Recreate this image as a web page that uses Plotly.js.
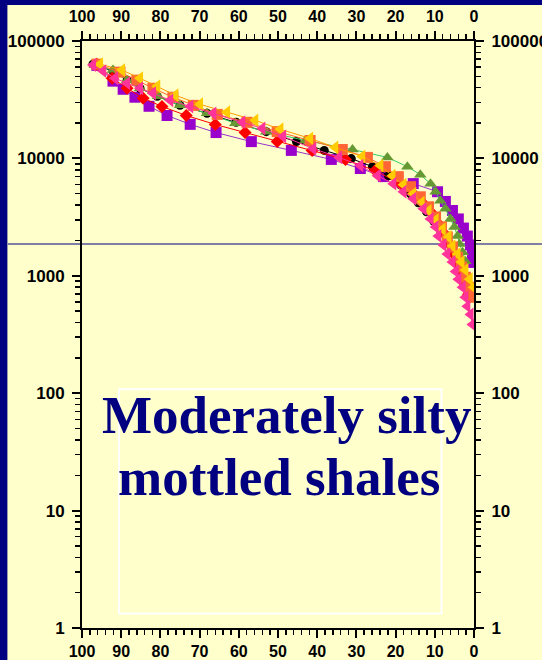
<!DOCTYPE html>
<html>
<head>
<meta charset="utf-8">
<script src="https://cdn.plot.ly/plotly-3.0.1.min.js"></script>
<style>
html,body{margin:0;padding:0;background:#ffffcc;}
#chart{width:542px;height:660px;}
</style>
</head>
<body>
<div id="chart"></div>
<script>
// ---- data (x = percent, y = value on log axis) ----
const purpleX = [96.2, 92.1, 89.5, 86.5, 82.9, 78.3, 72.4, 65.8, 56.8, 46.6, 36.4, 29.0, 23.1, 15.5, 9.3, 7.3, 5.5, 4.0, 2.7, 1.7, 0.9, 0.4, 0.1];
const purpleY = [62000, 45500, 38800, 33200, 27800, 23200, 19500, 16600, 13900, 11700, 9800, 8200, 7000, 6100, 5200, 4300, 3600, 3050, 2550, 2180, 1830, 1530, 1300];

const blackX = [97.2, 92.1, 88.5, 85.2, 80.8, 75.0, 68.1, 60.7, 53.0, 45.3, 38.2, 31.3, 25.9, 21.8, 18.8, 16.2, 14.2, 12.1, 10.3, 8.6, 7.0, 5.7, 4.5, 3.2, 2.2, 1.1, 0.1];
const blackY = [63500, 55400, 46400, 39600, 33800, 28300, 24200, 20300, 16900, 13900, 11700, 9960, 8510, 7120, 5970, 5000, 4190, 3510, 2930, 2450, 2060, 1720, 1440, 1190, 973, 798, 668];

const greenX = [96.7, 92.1, 88.5, 85.2, 80.6, 75.0, 68.1, 60.9, 53.0, 43.0, 31.0, 22.1, 17.0, 13.7, 11.1, 9.8, 8.6, 7.3, 6.0, 5.0, 4.2, 3.7, 2.9, 2.2];
const greenY = [62000, 56500, 46400, 39600, 33800, 28300, 24200, 19900, 16900, 14200, 11900, 10200, 8510, 7270, 6080, 5200, 4350, 3720, 3050, 2610, 2180, 1870, 1590, 1330];

const redX = [96.2, 92.3, 88.5, 84.4, 79.6, 73.4, 66.0, 58.4, 50.2, 41.3, 32.8, 25.2, 18.8, 15.5, 12.9, 10.6, 9.1, 7.5, 6.3, 5.2, 4.2, 3.2, 2.2, 1.4];
const redY = [63500, 48200, 39600, 32500, 27700, 23200, 19450, 16600, 13900, 11700, 9770, 7870, 6090, 5000, 4100, 3370, 2770, 2270, 1870, 1530, 1260, 1030, 848, 696];

const orangeX = [96.2, 90.3, 86.0, 81.9, 76.8, 71.6, 65.5, 57.9, 50.2, 41.8, 33.6, 27.2, 22.6, 19.3, 16.2, 13.7, 11.6, 9.8, 8.3, 6.8, 5.5, 4.2, 3.2, 2.2, 1.1, 0.1];
const orangeY = [63500, 54300, 46400, 39600, 33200, 28300, 23700, 20300, 16900, 14200, 11900, 10200, 8510, 6990, 5740, 4710, 3870, 3170, 2610, 2140, 1760, 1440, 1190, 973, 798, 656];

const yellowX = [95.4, 89.8, 85.2, 80.8, 76.2, 69.9, 63.0, 55.8, 49.4, 41.8, 35.4, 28.5, 23.9, 20.8, 18.0, 15.5, 13.4, 11.6, 9.8, 8.0, 6.5, 5.5, 4.2, 3.2, 2.2, 1.1, 0.1];
const yellowY = [63500, 56500, 48200, 41200, 34500, 28900, 24700, 21100, 17700, 14800, 12400, 10400, 8680, 7120, 5970, 5000, 4190, 3570, 2990, 2500, 2140, 1790, 1530, 1310, 1120, 935, 798];

const pinkX = [97.2, 94.6, 91.6, 88.5, 85.2, 81.9, 77.5, 72.4, 66.5, 59.1, 54.0, 48.7, 41.0, 34.4, 29.0, 24.6, 20.6, 18.0, 15.5, 12.9, 11.1, 9.8, 9.1, 7.8, 6.8, 5.5, 4.7, 4.0, 2.9, 2.2, 1.7, 0.9, 0.4];
const pinkY = [62400, 55400, 48200, 43700, 39600, 35900, 31300, 27700, 24200, 20300, 18000, 15400, 12100, 10200, 8680, 7120, 6090, 5200, 4530, 3720, 3050, 2610, 2180, 1830, 1530, 1310, 1090, 935, 798, 656, 549, 469, 385];

// ---- ticks and labels ----
const xTickVals = [100, 90, 80, 70, 60, 50, 40, 30, 20, 10, 0];
const xTickText = ['100', '90', '80', '70', '60', '50', '40', '30', '20', '10', '0'];
const yTickVals = [1, 10, 100, 1000, 10000, 100000];
const yTickText = ['1', '10', '100', '1000', '10000', '100000'];
const yMinorVals = [];
for (let d = 1; d <= 10000; d *= 10) { for (let k = 2; k <= 9; k++) yMinorVals.push(k * d); }

const labelLine1 = 'Moderately silty';
const labelLine2 = 'mottled shales';
const refLineValue = 1866;

function series(x, y, lineColor, markerColor, symbol, size, xa, ya) {
  return {
    x: x, y: y, type: 'scatter', mode: 'lines+markers',
    xaxis: xa || 'x', yaxis: ya || 'y',
    line: {color: lineColor, width: 1},
    marker: {color: markerColor, symbol: symbol, size: size, line: {width: 0}},
    hoverinfo: 'x+y', showlegend: false
  };
}

const traces = [
  series(purpleX, purpleY, '#9933cc', '#9900cc', 'square', 11),
  series(blackX, blackY, '#000000', '#000000', 'circle', 9),
  series(greenX, greenY, '#33cc66', '#669933', 'triangle-up', 11),
  series(redX, redY, '#ff0000', '#ff0000', 'diamond', 10),
  series(orangeX, orangeY, '#ff6633', '#ff6633', 'square', 11),
  series(yellowX, yellowY, '#ff9900', '#ffcc00', 'triangle-left', 12),
  series(pinkX, pinkY, '#ff3399', '#ff3399', 'triangle-left', 12, 'x2', 'y2')
];

const xTickFont = {family: 'Liberation Sans, Arial, sans-serif', size: 16, color: '#000000', weight: 'bold'};
const yTickFont = {family: 'Liberation Sans, Arial, sans-serif', size: 17, color: '#000000', weight: 'bold'};

const xCommon = {
  range: [100, 0], tickmode: 'array', tickvals: xTickVals, ticktext: xTickText,
  ticks: 'outside', ticklen: 8, tickwidth: 2, tickcolor: '#000',
  minor: {dtick: 2, ticks: 'outside', ticklen: 5, tickwidth: 1.5, tickcolor: '#000'},
  showline: true, linecolor: '#000', linewidth: 2,
  showgrid: false, zeroline: false, tickfont: xTickFont, fixedrange: true
};
const yCommon = {
  type: 'log', range: [0, 5], tickmode: 'array', tickvals: yTickVals, ticktext: yTickText,
  ticks: 'outside', ticklen: 8, tickwidth: 2, tickcolor: '#000',
  minor: {tickmode: 'array', tickvals: yMinorVals, ticks: 'outside', ticklen: 5, tickwidth: 1.5, tickcolor: '#000'},
  showline: true, linecolor: '#000', linewidth: 2,
  showgrid: false, zeroline: false, tickfont: yTickFont, fixedrange: true
};

const layout = {
  width: 542, height: 660,
  margin: {l: 82, r: 68, t: 41, b: 32, pad: 0},
  paper_bgcolor: '#ffffcc', plot_bgcolor: '#ffffcc',
  showlegend: false,
  xaxis: Object.assign({}, xCommon, {side: 'bottom', anchor: 'y', ticklabelstandoff: 0}),
  xaxis2: Object.assign({}, xCommon, {side: 'top', overlaying: 'x', anchor: 'y2', ticklabelstandoff: 3}),
  yaxis: Object.assign({}, yCommon, {side: 'left', anchor: 'x', ticklabelstandoff: 4}),
  yaxis2: Object.assign({}, yCommon, {side: 'right', overlaying: 'y', anchor: 'x2', ticklabelstandoff: 4}),
  shapes: [
    {type: 'rect', xref: 'paper', yref: 'paper', x0: -0.3, x1: -0.1903, y0: -0.2, y1: 1.2,
     fillcolor: '#000080', line: {width: 0}, layer: 'above'},
    {type: 'rect', xref: 'paper', yref: 'paper', x0: -0.3, x1: 1.3, y0: 1.0614, y1: 1.2,
     fillcolor: '#000080', line: {width: 0}, layer: 'above'},
    {type: 'line', xref: 'paper', yref: 'y', x0: -0.189, x1: 1.3,
     y0: refLineValue, y1: refLineValue,
     line: {color: '#000080', width: 1.2}, layer: 'below'},
    {type: 'rect', xref: 'paper', yref: 'paper', x0: 0.0945, x1: 0.917, y0: 0.0247, y1: 0.4067,
     line: {color: '#ffffff', width: 2}, fillcolor: 'rgba(0,0,0,0)', layer: 'below'}
  ],
  annotations: [
    {xref: 'paper', yref: 'paper', x: 0.5223, y: 0.3623, xanchor: 'center', yanchor: 'middle',
     text: labelLine1, showarrow: false,
     font: {family: 'Liberation Serif, Times New Roman, serif', size: 53, color: '#000080', weight: 'bold'}},
    {xref: 'paper', yref: 'paper', x: 0.503, y: 0.2566, xanchor: 'center', yanchor: 'middle',
     text: labelLine2, showarrow: false,
     font: {family: 'Liberation Serif, Times New Roman, serif', size: 53, color: '#000080', weight: 'bold'}}
  ]
};

Plotly.newPlot('chart', traces, layout, {displayModeBar: false, staticPlot: true});
</script>
</body>
</html>
